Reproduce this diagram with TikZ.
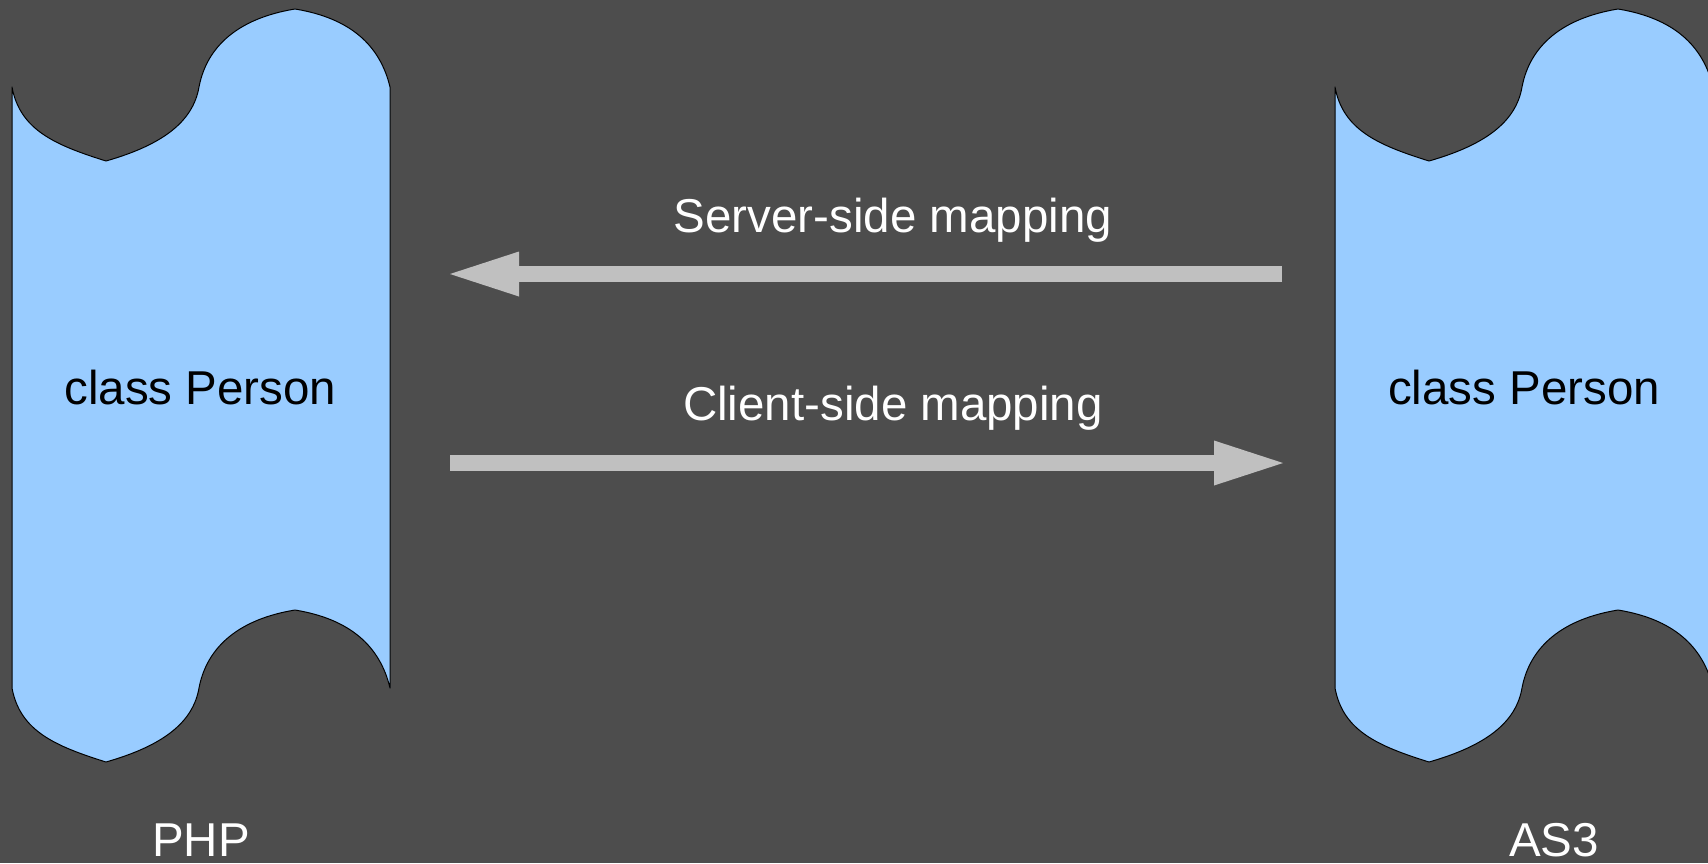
\documentclass[tikz,border=0pt]{standalone}
\usepackage{fontspec}
\setmainfont{Liberation Sans}
\usetikzlibrary{arrows.meta}
\definecolor{bgc}{HTML}{4D4D4D}
\definecolor{tapec}{HTML}{99CCFF}
\definecolor{arrc}{HTML}{C0C0C0}
\tikzset{
  tape/.style={fill=tapec, draw=black, line width=0.5pt, line join=round},
  maparrow/.style={draw=arrc, line width=8pt, -{Triangle[length=34.5pt,width=22.5pt,fill=arrc,line width=0pt]}},
  lbl/.style={anchor=base, inner sep=0pt, font=\fontsize{23.75}{28}\selectfont},
}
\newcommand{\tapepath}{%
  (12,87) .. controls (20,130) and (55,145) .. (106,161)
  .. controls (162,145) and (193,122) .. (199,87)
  .. controls (207,45) and (240,18) .. (295,9)
  .. controls (350,18) and (380,45) .. (390,87)
  -- (390,688)
  .. controls (380,646) and (350,619) .. (295,610)
  .. controls (240,619) and (207,646) .. (199,688)
  .. controls (193,723) and (162,746) .. (106,762)
  .. controls (55,746) and (20,731) .. (12,688) -- cycle}
\begin{document}
\begin{tikzpicture}[x=0.5pt,y=-0.5pt]
\useasboundingbox (0,0) rectangle (1708,863);
\clip (0,0) rectangle (1708,863);
\fill[bgc] (0,0) rectangle (1708,863);
% tapes
\path[tape] \tapepath;
\begin{scope}[xshift=661.5pt]
\path[tape] \tapepath;
\end{scope}
% labels
\node[lbl, text=black] (phpclass) at (200.5,404) {class Person};
\node[lbl, text=black] (asclass) at (1524,404) {class Person};
\node[lbl, text=white] (php) at (201,856) {PHP};
\node[lbl, text=white] (as3) at (1554,856) {AS3};
\node[lbl, text=white] (server) at (893,232) {Server-side mapping};
\node[lbl, text=white] (client) at (893,420) {Client-side mapping};
% arrows
\coordinate (sR) at (1282,274);
\coordinate (sL) at (450,274);
\coordinate (cL) at (450,463);
\coordinate (cR) at (1283,463);
\draw[maparrow] (sR) -- (sL);
\draw[maparrow] (cL) -- (cR);
\end{tikzpicture}
\end{document}
